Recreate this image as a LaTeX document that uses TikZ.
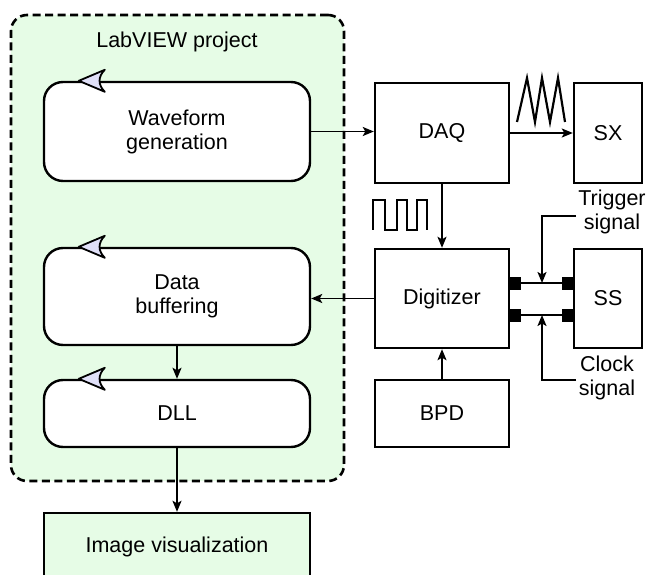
\documentclass[tikz,border=0pt]{standalone}
\usepackage{fontspec}
\setmainfont{Liberation Sans}
\usetikzlibrary{arrows.meta}
\definecolor{lgreen}{HTML}{E6FCE6}
\definecolor{lav}{HTML}{E0E0F8}
\begin{document}
\begin{tikzpicture}[x=1pt,y=-1pt,
  every node/.style={font=\fontsize{21.5}{24}\selectfont},
  lw/.style={line width=2.2pt},
  loopbox/.style={draw,line width=2.4pt,rounded corners=19pt,fill=white,minimum width=266pt,align=center,inner sep=0pt},
  hwbox/.style={draw,line width=2.4pt,fill=white,align=center,inner sep=0pt},
  arr/.style={line width=1.9pt,-{Stealth[length=11pt,width=9pt,inset=2.5pt]}},
  port/.style={fill=black,minimum width=11pt,minimum height=13pt,inner sep=0pt},
  loopmark/.pic={\draw[fill=lav,line width=1.8pt,line join=round] (36,0) -- (62,-11) .. controls (55,-4) and (55,4) .. (62,11) -- cycle;}]
\useasboundingbox (0,0) rectangle (646,575);
% container
\node[draw,dash pattern=on 8pt off 4.5pt,line width=2.6pt,rounded corners=16pt,fill=lgreen,minimum width=333pt,minimum height=466pt,inner sep=0pt] (proj) at (177.5,248) {};
\node (title) at (177,42) {LabVIEW project};
% software loops
\node[loopbox,minimum height=99pt] (wave) at (177,131.5) {Waveform\\generation};
\node[loopbox,minimum height=97pt] (buf) at (177,296.5) {Data\\buffering};
\node[loopbox,minimum height=67pt] (dll) at (177,413.5) {DLL};
\pic at (wave.north west) {loopmark};
\pic at (buf.north west) {loopmark};
\pic at (dll.north west) {loopmark};
% image visualization
\node[draw,line width=2.4pt,fill=lgreen,minimum width=266pt,minimum height=68pt,inner sep=0pt] (img) at (177,547) {Image visualization};
% hardware
\node[hwbox,minimum width=134pt,minimum height=100pt] (daq) at (442,133) {DAQ};
\node[hwbox,minimum width=68pt,minimum height=100pt] (sx) at (608,133) {SX};
\node[hwbox,minimum width=134pt,minimum height=99pt] (dig) at (442,298.5) {Digitizer};
\node[hwbox,minimum width=68pt,minimum height=99pt] (ss) at (608,298.5) {SS};
\node[hwbox,minimum width=134pt,minimum height=67pt] (bpd) at (442,413.5) {BPD};
% labels
\node[align=center] (trig) at (612,212) {Trigger\\signal};
\node[align=center] (clk) at (607,378) {Clock\\signal};
% connectors
\draw[arr] (wave.east) -- (wave.east -| daq.west);
\draw[arr] (daq.east) -- (sx.west);
\draw[arr] (daq.south) -- (dig.north);
\draw[arr] (bpd.north) -- (dig.south);
\draw[arr] (dig.west) -- (dig.west -| buf.east);
\draw[arr] (buf.south) -- (dll.north);
\draw[arr] (dll.south) -- (img.north);
% digitizer-SS links
\coordinate (yt) at (0,283);
\coordinate (yc) at (0,315);
\draw[lw] (dig.east |- yt) -- (ss.west |- yt);
\draw[lw] (dig.east |- yc) -- (ss.west |- yc);
\node[port,anchor=west] (p1) at (dig.east |- yt) {};
\node[port,anchor=west] (p2) at (dig.east |- yc) {};
\node[port,anchor=east] (p3) at (ss.west |- yt) {};
\node[port,anchor=east] (p4) at (ss.west |- yc) {};
\coordinate (tl) at (576,216);
\coordinate (tt) at (542,283);
\coordinate (cl) at (576,380);
\coordinate (ct) at (542,315);
\draw[arr] (tl) -| (tt);
\draw[arr] (cl) -| (ct);
% waveforms
\draw[lw,line join=miter] (373,230) -- (373,200) -- (385,200) -- (385,230) -- (397,230) -- (397,200) -- (407,200) -- (407,230) -- (417,230) -- (417,200) -- (427,200) -- (427,230);
\draw[lw,line join=miter] (517,122) -- (527,78) -- (535,122) -- (542,78) -- (550,122) -- (558,78) -- (565,122);
\end{tikzpicture}
\end{document}
